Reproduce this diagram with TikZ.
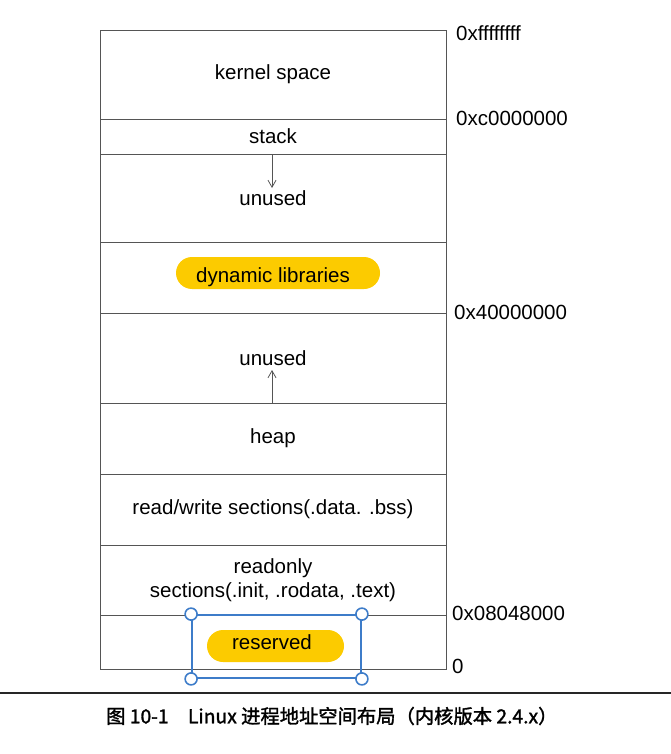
\documentclass[tikz,border=0pt]{standalone}
\usepackage{fontspec}
\setmainfont{Liberation Sans}
\newfontfamily\cjk[AutoFakeBold=1.6]{Noto Sans CJK SC}
\usetikzlibrary{arrows.meta}
\definecolor{lineg}{HTML}{555555}
\definecolor{pillyellow}{HTML}{FCCB00}
\definecolor{selblue}{HTML}{3D7CC9}
\tikzset{
  region/.style={draw=lineg, line width=0.9pt, minimum width=346pt, inner sep=0pt, align=center,
    font=\fontsize{20.5}{24}\selectfont},
  addr/.style={anchor=west, inner sep=0pt, font=\fontsize{20.5}{24}\selectfont},
  pill/.style={fill=pillyellow, rounded corners=16pt, minimum height=32pt, inner sep=0pt},
  pilltext/.style={inner sep=0pt, font=\fontsize{20.5}{24}\selectfont},
  growarrow/.style={draw=lineg, line width=0.8pt, -{Straight Barb[length=7pt,width=8pt]}},
  handle/.style={circle, draw=selblue, fill=white, line width=1.6pt, minimum size=12pt, inner sep=0pt}
}
\begin{document}
\begin{tikzpicture}[x=1pt,y=-1pt]
\useasboundingbox (0,0) rectangle (671,754);
% regions
\node[region, minimum height=89pt] (kernel) at (273,74.5) {kernel space};
\node[region, minimum height=35pt] (stack) at (273,136.5) {stack};
\node[region, minimum height=88pt] (unusedA) at (273,198) {unused};
\node[region, minimum height=71pt] (dyn) at (273,277.5) {};
\node[region, minimum height=90pt] (unusedB) at (273,358) {unused};
\node[region, minimum height=71pt] (heap) at (273,438.5) {heap};
\node[region, minimum height=71pt] (rw) at (273,509.5) {read/write sections(.data. .bss)};
\node[region, minimum height=70pt] (ro) at (273,580) {readonly\\sections(.init, .rodata, .text)};
\node[region, minimum height=54pt] (res) at (273,642) {};
% pills
\node[pill, minimum width=204pt] (dynpill) at (278,273) {};
\node[pilltext] (dyntext) at (273,277) {dynamic libraries};
\node[pill, minimum width=137pt] (respill) at (275.5,646) {};
\node[pilltext] (restext) at (272,642) {reserved};
% growth arrows
\coordinate (stacktip) at (272,188);
\coordinate (heaptip) at (272,370);
\draw[growarrow] (stack.south -| stacktip) -- (stacktip);
\draw[growarrow] (heap.north -| heaptip) -- (heaptip);
% addresses
\node[addr] (a1) at (456,33) {0xffffffff};
\node[addr] (a2) at (456,118) {0xc0000000};
\node[addr] (a3) at (454,312) {0x40000000};
\node[addr] (a4) at (452,613) {0x08048000};
\node[addr] (a5) at (452,666) {0};
% selection rectangle
\node[draw=selblue, line width=1.8pt, minimum width=169pt, minimum height=63pt, inner sep=0pt] (sel) at (276.5,646.5) {};
\foreach \c in {north west, north east, south west, south east}
  \node[handle] at (sel.\c) {};
% caption
\draw[line width=1.4pt, black!85] (0,693) -- (671,693);
\node[anchor=west, inner sep=0pt, font=\cjk\bfseries\fontsize{19.3}{22}\selectfont] (cap) at (106,716) {图 10-1\quad Linux 进程地址空间布局（内核版本 2.4.x）};
\end{tikzpicture}
\end{document}
